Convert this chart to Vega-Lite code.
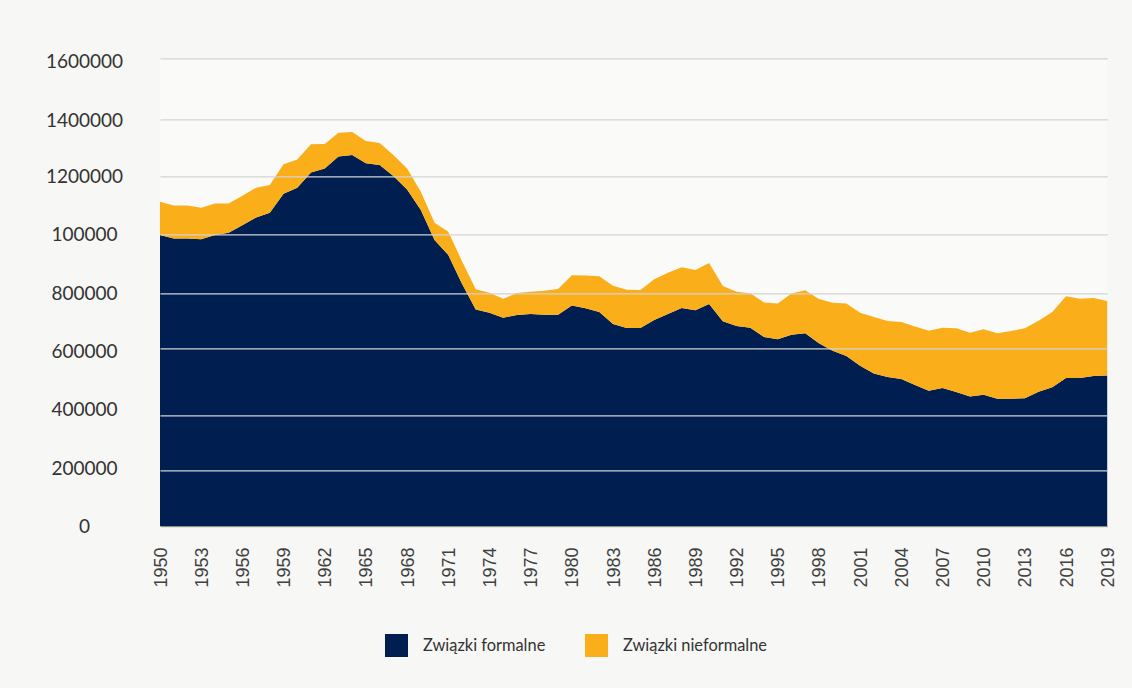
{
  "$schema": "https://vega.github.io/schema/vega-lite/v6.json",
  "autosize": {"type": "none"},
  "padding": {"left": 160, "top": 58.3, "right": 24.8, "bottom": 162},
  "width": 947.2,
  "height": 467.7,
  "background": "#F7F7F5",
  "config": {"view": {"stroke": null, "fill": "#FAFAF8"}},
  "datasets": {
    "rows": [
      {"rok":1950,"typ":"Związki formalne","liczba":998000},{"rok":1950,"typ":"Związki nieformalne","liczba":114000},
      {"rok":1951,"typ":"Związki formalne","liczba":986000},{"rok":1951,"typ":"Związki nieformalne","liczba":113000},
      {"rok":1952,"typ":"Związki formalne","liczba":986000},{"rok":1952,"typ":"Związki nieformalne","liczba":113000},
      {"rok":1953,"typ":"Związki formalne","liczba":983000},{"rok":1953,"typ":"Związki nieformalne","liczba":108000},
      {"rok":1954,"typ":"Związki formalne","liczba":998000},{"rok":1954,"typ":"Związki nieformalne","liczba":108000},
      {"rok":1955,"typ":"Związki formalne","liczba":1005000},{"rok":1955,"typ":"Związki nieformalne","liczba":101000},
      {"rok":1956,"typ":"Związki formalne","liczba":1031000},{"rok":1956,"typ":"Związki nieformalne","liczba":101000},
      {"rok":1957,"typ":"Związki formalne","liczba":1058000},{"rok":1957,"typ":"Związki nieformalne","liczba":102000},
      {"rok":1958,"typ":"Związki formalne","liczba":1074000},{"rok":1958,"typ":"Związki nieformalne","liczba":95000},
      {"rok":1959,"typ":"Związki formalne","liczba":1139000},{"rok":1959,"typ":"Związki nieformalne","liczba":103000},
      {"rok":1960,"typ":"Związki formalne","liczba":1160000},{"rok":1960,"typ":"Związki nieformalne","liczba":99000},
      {"rok":1961,"typ":"Związki formalne","liczba":1212000},{"rok":1961,"typ":"Związki nieformalne","liczba":101000},
      {"rok":1962,"typ":"Związki formalne","liczba":1227000},{"rok":1962,"typ":"Związki nieformalne","liczba":87000},
      {"rok":1963,"typ":"Związki formalne","liczba":1269000},{"rok":1963,"typ":"Związki nieformalne","liczba":85000},
      {"rok":1964,"typ":"Związki formalne","liczba":1275000},{"rok":1964,"typ":"Związki nieformalne","liczba":81000},
      {"rok":1965,"typ":"Związki formalne","liczba":1245000},{"rok":1965,"typ":"Związki nieformalne","liczba":79000},
      {"rok":1966,"typ":"Związki formalne","liczba":1239000},{"rok":1966,"typ":"Związki nieformalne","liczba":78000},
      {"rok":1967,"typ":"Związki formalne","liczba":1200000},{"rok":1967,"typ":"Związki nieformalne","liczba":75000},
      {"rok":1968,"typ":"Związki formalne","liczba":1154000},{"rok":1968,"typ":"Związki nieformalne","liczba":73000},
      {"rok":1969,"typ":"Związki formalne","liczba":1083000},{"rok":1969,"typ":"Związki nieformalne","liczba":63000},
      {"rok":1970,"typ":"Związki formalne","liczba":981000},{"rok":1970,"typ":"Związki nieformalne","liczba":59000},
      {"rok":1971,"typ":"Związki formalne","liczba":930000},{"rok":1971,"typ":"Związki nieformalne","liczba":79000},
      {"rok":1972,"typ":"Związki formalne","liczba":832000},{"rok":1972,"typ":"Związki nieformalne","liczba":77000},
      {"rok":1973,"typ":"Związki formalne","liczba":741000},{"rok":1973,"typ":"Związki nieformalne","liczba":73000},
      {"rok":1974,"typ":"Związki formalne","liczba":729000},{"rok":1974,"typ":"Związki nieformalne","liczba":73000},
      {"rok":1975,"typ":"Związki formalne","liczba":711000},{"rok":1975,"typ":"Związki nieformalne","liczba":69000},
      {"rok":1976,"typ":"Związki formalne","liczba":721000},{"rok":1976,"typ":"Związki nieformalne","liczba":80000},
      {"rok":1977,"typ":"Związki formalne","liczba":724000},{"rok":1977,"typ":"Związki nieformalne","liczba":81000},
      {"rok":1978,"typ":"Związki formalne","liczba":722000},{"rok":1978,"typ":"Związki nieformalne","liczba":87000},
      {"rok":1979,"typ":"Związki formalne","liczba":722000},{"rok":1979,"typ":"Związki nieformalne","liczba":93000},
      {"rok":1980,"typ":"Związki formalne","liczba":755000},{"rok":1980,"typ":"Związki nieformalne","liczba":106000},
      {"rok":1981,"typ":"Związki formalne","liczba":745000},{"rok":1981,"typ":"Związki nieformalne","liczba":115000},
      {"rok":1982,"typ":"Związki formalne","liczba":732000},{"rok":1982,"typ":"Związki nieformalne","liczba":126000},
      {"rok":1983,"typ":"Związki formalne","liczba":688000},{"rok":1983,"typ":"Związki nieformalne","liczba":138000},
      {"rok":1984,"typ":"Związki formalne","liczba":673000},{"rok":1984,"typ":"Związki nieformalne","liczba":139000},
      {"rok":1985,"typ":"Związki formalne","liczba":673000},{"rok":1985,"typ":"Związki nieformalne","liczba":138000},
      {"rok":1986,"typ":"Związki formalne","liczba":702000},{"rok":1986,"typ":"Związki nieformalne","liczba":146000},
      {"rok":1987,"typ":"Związki formalne","liczba":724000},{"rok":1987,"typ":"Związki nieformalne","liczba":146000},
      {"rok":1988,"typ":"Związki formalne","liczba":746000},{"rok":1988,"typ":"Związki nieformalne","liczba":142000},
      {"rok":1989,"typ":"Związki formalne","liczba":738000},{"rok":1989,"typ":"Związki nieformalne","liczba":141000},
      {"rok":1990,"typ":"Związki formalne","liczba":761000},{"rok":1990,"typ":"Związki nieformalne","liczba":142000},
      {"rok":1991,"typ":"Związki formalne","liczba":698000},{"rok":1991,"typ":"Związki nieformalne","liczba":127000},
      {"rok":1992,"typ":"Związki formalne","liczba":680000},{"rok":1992,"typ":"Związki nieformalne","liczba":125000},
      {"rok":1993,"typ":"Związki formalne","liczba":674000},{"rok":1993,"typ":"Związki nieformalne","liczba":126000},
      {"rok":1994,"typ":"Związki formalne","liczba":640000},{"rok":1994,"typ":"Związki nieformalne","liczba":126000},
      {"rok":1995,"typ":"Związki formalne","liczba":632000},{"rok":1995,"typ":"Związki nieformalne","liczba":131000},
      {"rok":1996,"typ":"Związki formalne","liczba":648000},{"rok":1996,"typ":"Związki nieformalne","liczba":151000},
      {"rok":1997,"typ":"Związki formalne","liczba":654000},{"rok":1997,"typ":"Związki nieformalne","liczba":156000},
      {"rok":1998,"typ":"Związki formalne","liczba":617000},{"rok":1998,"typ":"Związki nieformalne","liczba":162000},
      {"rok":1999,"typ":"Związki formalne","liczba":592000},{"rok":1999,"typ":"Związki nieformalne","liczba":173000},
      {"rok":2000,"typ":"Związki formalne","liczba":576000},{"rok":2000,"typ":"Związki nieformalne","liczba":187000},
      {"rok":2001,"typ":"Związki formalne","liczba":547000},{"rok":2001,"typ":"Związki nieformalne","liczba":182000},
      {"rok":2002,"typ":"Związki formalne","liczba":524000},{"rok":2002,"typ":"Związki nieformalne","liczba":189000},
      {"rok":2003,"typ":"Związki formalne","liczba":514000},{"rok":2003,"typ":"Związki nieformalne","liczba":185000},
      {"rok":2004,"typ":"Związki formalne","liczba":508000},{"rok":2004,"typ":"Związki nieformalne","liczba":187000},
      {"rok":2005,"typ":"Związki formalne","liczba":490000},{"rok":2005,"typ":"Związki nieformalne","liczba":189000},
      {"rok":2006,"typ":"Związki formalne","liczba":473000},{"rok":2006,"typ":"Związki nieformalne","liczba":190000},
      {"rok":2007,"typ":"Związki formalne","liczba":481000},{"rok":2007,"typ":"Związki nieformalne","liczba":193000},
      {"rok":2008,"typ":"Związki formalne","liczba":469000},{"rok":2008,"typ":"Związki nieformalne","liczba":203000},
      {"rok":2009,"typ":"Związki formalne","liczba":456000},{"rok":2009,"typ":"Związki nieformalne","liczba":200000},
      {"rok":2010,"typ":"Związki formalne","liczba":461000},{"rok":2010,"typ":"Związki nieformalne","liczba":208000},
      {"rok":2011,"typ":"Związki formalne","liczba":449000},{"rok":2011,"typ":"Związki nieformalne","liczba":205000},
      {"rok":2012,"typ":"Związki formalne","liczba":449000},{"rok":2012,"typ":"Związki nieformalne","liczba":213000},
      {"rok":2013,"typ":"Związki formalne","liczba":451000},{"rok":2013,"typ":"Związki nieformalne","liczba":221000},
      {"rok":2014,"typ":"Związki formalne","liczba":470000},{"rok":2014,"typ":"Związki nieformalne","liczba":230000},
      {"rok":2015,"typ":"Związki formalne","liczba":483000},{"rok":2015,"typ":"Związki nieformalne","liczba":249000},
      {"rok":2016,"typ":"Związki formalne","liczba":511000},{"rok":2016,"typ":"Związki nieformalne","liczba":278000},
      {"rok":2017,"typ":"Związki formalne","liczba":511000},{"rok":2017,"typ":"Związki nieformalne","liczba":269000},
      {"rok":2018,"typ":"Związki formalne","liczba":517000},{"rok":2018,"typ":"Związki nieformalne","liczba":266000},
      {"rok":2019,"typ":"Związki formalne","liczba":518000},{"rok":2019,"typ":"Związki nieformalne","liczba":254000}
    ]
  },
  "data": {"name": "rows"},
  "mark": {"type": "area", "interpolate": "linear", "opacity": 1, "strokeWidth": 0},
  "encoding": {
    "x": {
      "field": "rok",
      "type": "quantitative",
      "scale": {"domain": [1950, 2019], "nice": false, "zero": false},
      "axis": {
        "title": null,
        "values": [1950,1953,1956,1959,1962,1965,1968,1971,1974,1977,1980,1983,1986,1989,1992,1995,1998,2001,2004,2007,2010,2013,2016,2019],
        "format": "d",
        "labelAngle": -90,
        "labelPadding": 21,
        "labelFont": "Liberation Sans",
        "labelFontSize": 18,
        "labelColor": "#404040",
        "labelFlush": false,
        "labelOverlap": false,
        "labelBound": false,
        "labelOffset": 1,
        "ticks": false,
        "tickSize": 0,
        "grid": false,
        "domain": true,
        "domainColor": "#8C8C8C",
        "domainWidth": 1.2,
        "zindex": 2
      }
    },
    "y": {
      "field": "liczba",
      "type": "quantitative",
      "stack": "zero",
      "scale": {
        "domain": [0, 200000, 400000, 600000, 800000, 1000000, 1200000, 1400000, 1600000],
        "range": [467.7, 412.4, 357, 289.7, 235, 176, 117.7, 61.4, 0],
        "nice": false,
        "zero": false
      },
      "axis": {
        "title": null,
        "values": [0, 200000, 400000, 600000, 800000, 1000000, 1200000, 1400000, 1600000],
        "labelExpr": "datum.value == 1000000 ? '100000' : format(datum.value, 'd')",
        "domain": false,
        "ticks": false,
        "tickSize": 0,
        "labelFont": "Lato",
        "labelFontSize": 19,
        "labelColor": "#333333",
        "labelAlign": "center",
        "labelPadding": 76,
        "labelFlush": false,
        "labelOverlap": false,
        "labelBound": false,
        "labelOffset": {
          "condition": [
            {"test": "datum.value == 200000", "value": -2},
            {"test": "datum.value == 400000", "value": -6},
            {"test": "datum.value == 600000", "value": 3},
            {"test": "datum.value == 1600000", "value": 2.7}
          ],
          "value": 0.6
        },
        "grid": true,
        "gridColor": "#D3D3D3",
        "gridWidth": 1.3,
        "zindex": 1
      }
    },
    "color": {
      "field": "typ",
      "type": "nominal",
      "scale": {"domain": ["Związki formalne", "Związki nieformalne"], "range": ["#011E51", "#F9AE1A"]},
      "legend": {
        "title": null,
        "orient": "none",
        "legendX": 225,
        "legendY": 575.7,
        "direction": "horizontal",
        "symbolType": "square",
        "symbolSize": 529,
        "symbolStrokeWidth": 0,
        "symbolOpacity": 1,
        "labelFont": "Lato",
        "labelFontSize": 16.4,
        "labelColor": "#333333",
        "labelOffset": 15,
        "columnPadding": 39,
        "padding": 0
      }
    },
    "order": {"field": "typ", "type": "nominal", "sort": "ascending"}
  }
}
